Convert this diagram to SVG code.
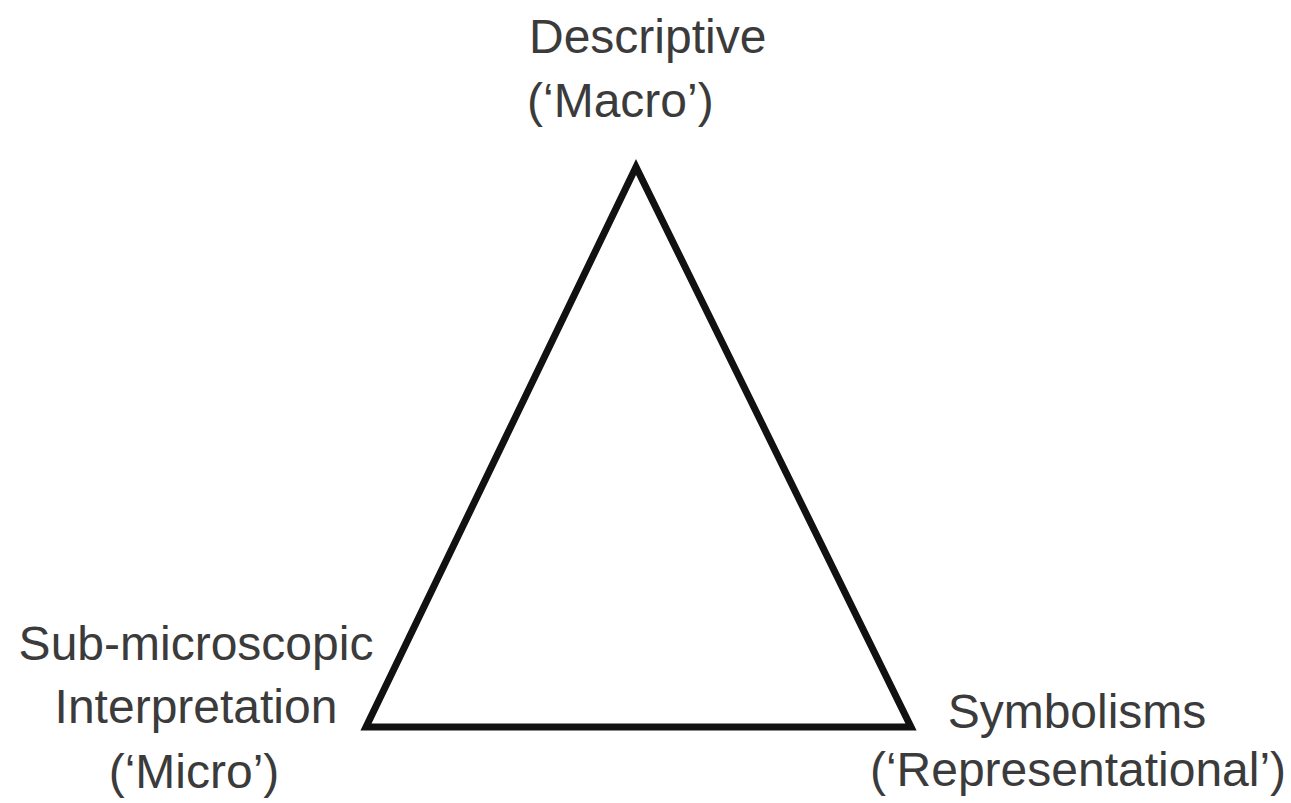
<svg xmlns="http://www.w3.org/2000/svg" width="1291" height="803" viewBox="0 0 1291 803">
<style>
.lbl{font-family:"Liberation Sans",Arial,sans-serif;font-size:48px;fill:#3b3b3b}
.tri{fill:#fff;stroke:#111;stroke-width:7;stroke-linejoin:miter}
</style>
<rect width="1291" height="803" fill="#fff"/>
<g id="connectors">
<polygon class="tri" points="636,167 366,727 911,727"/>
</g>
<g id="node-macro">
<text class="lbl" x="529" y="53">Descriptive</text>
<text class="lbl" x="527" y="117">(‘Macro’)</text>
</g>
<g id="node-micro">
<text class="lbl" x="196" y="660" text-anchor="middle">Sub-microscopic</text>
<text class="lbl" x="196" y="723" text-anchor="middle">Interpretation</text>
<text class="lbl" x="194" y="788" text-anchor="middle">(‘Micro’)</text>
</g>
<g id="node-symbolic">
<text class="lbl" x="1077" y="728" text-anchor="middle">Symbolisms</text>
<text class="lbl" x="1078" y="786" text-anchor="middle">(‘Representational’)</text>
</g>
</svg>
